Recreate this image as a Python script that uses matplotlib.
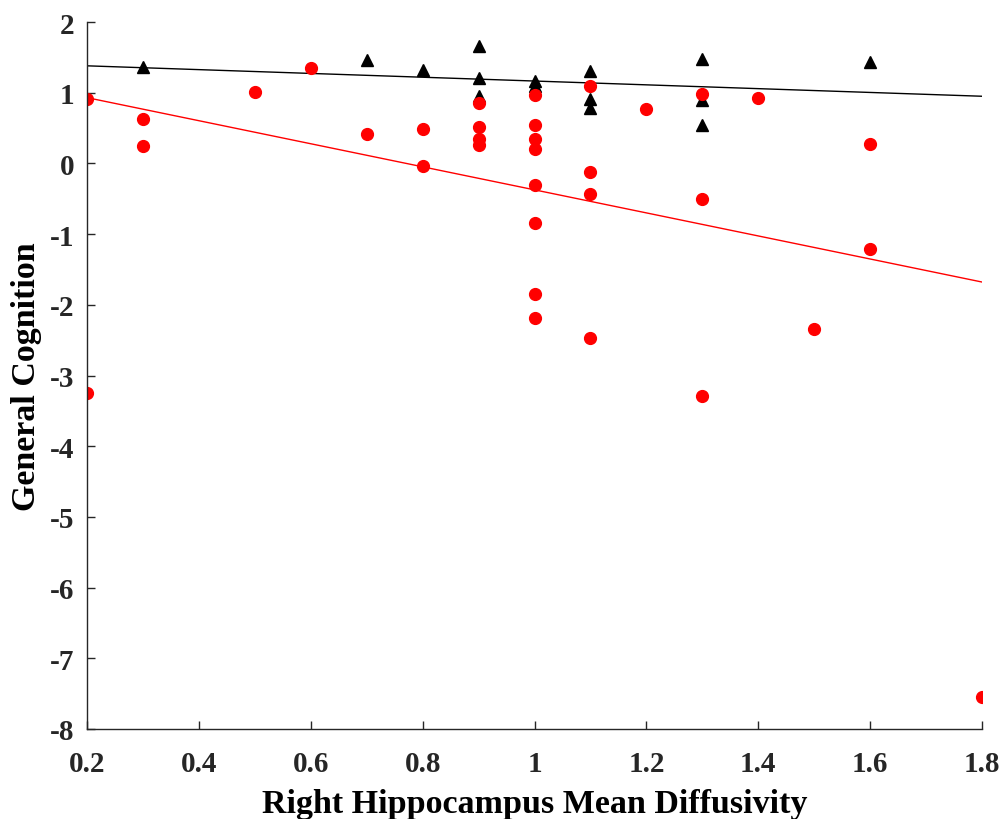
import matplotlib
matplotlib.use("Agg")
import matplotlib.pyplot as plt
import numpy as np

# Red group (circles)
red_x = [0.2, 0.2, 0.3, 0.3, 0.5, 0.6, 0.7, 0.8, 0.8,
         0.9, 0.9, 0.9, 0.9,
         1.0, 1.0, 1.0, 1.0, 1.0, 1.0, 1.0, 1.0,
         1.1, 1.1, 1.1, 1.1,
         1.2, 1.3, 1.3, 1.3, 1.4, 1.5, 1.6, 1.6, 1.8]
red_y = [0.91, -3.25, 0.63, 0.25, 1.01, 1.35, 0.41, 0.48, -0.04,
         0.85, 0.52, 0.35, 0.26,
         0.97, 0.55, 0.35, 0.20, -0.31, -0.85, -1.85, -2.19,
         1.09, -0.12, -0.43, -2.47,
         0.77, 0.98, -0.51, -3.29, 0.93, -2.34, 0.28, -1.21, -7.55]

# Black group (triangles)
black_x = [0.3, 0.7, 0.8, 0.9, 0.9, 0.9, 1.0, 1.0, 1.1, 1.1, 1.1,
           1.3, 1.3, 1.3, 1.6]
black_y = [1.36, 1.46, 1.32, 1.66, 1.21, 0.96, 1.17, 1.09, 1.30, 0.91, 0.79,
           1.48, 0.89, 0.55, 1.44]

# Fit lines (intercept, slope)
red_fit = (1.256, -1.63)
black_fit = (1.434, -0.269)

x_ticks = [0.2, 0.4, 0.6, 0.8, 1.0, 1.2, 1.4, 1.6, 1.8]
x_tick_labels = ["0.2", "0.4", "0.6", "0.8", "1", "1.2", "1.4", "1.6", "1.8"]
y_ticks = [-8, -7, -6, -5, -4, -3, -2, -1, 0, 1, 2]

plt.rcParams['font.family'] = ['Liberation Serif', 'DejaVu Serif']
plt.rcParams['font.weight'] = 'bold'

fig = plt.figure(figsize=(10.05, 8.2), dpi=100)
ax = fig.add_axes([87/1005, 1 - 730/820, (982 - 87)/1005, (730 - 23)/820])

xl = np.array([0.2, 1.8])
ax.plot(xl, black_fit[0] + black_fit[1]*xl, color='black', lw=1.0, zorder=2)
ax.plot(xl, red_fit[0] + red_fit[1]*xl, color='red', lw=1.0, zorder=2)

ax.plot(black_x, black_y, linestyle='none', marker='^', color='black', markersize=8.5, zorder=3)
ax.plot(red_x, red_y, linestyle='none', marker='o', color='red', markersize=8.5, zorder=3)

ax.set_xlim(0.2, 1.8)
ax.set_ylim(-8, 2)
ax.set_xticks(x_ticks)
ax.set_xticklabels(x_tick_labels)
ax.set_yticks(y_ticks)
ax.set_yticklabels([str(v) for v in y_ticks])

for s in ['top', 'right']:
    ax.spines[s].set_visible(False)
for s in ['left', 'bottom']:
    ax.spines[s].set_color('#262626')
    ax.spines[s].set_linewidth(1.0)
    ax.spines[s].set_zorder(4)

ax.tick_params(direction='in', length=6, width=1.0, color='#262626',
               labelsize=21, labelcolor='#262626')
ax.tick_params(axis='x', pad=15)
ax.tick_params(axis='y', pad=9)
for lab in ax.get_xticklabels() + ax.get_yticklabels():
    lab.set_fontweight('bold')

ax.set_xlabel('Right Hippocampus Mean Diffusivity', fontsize=24.5, fontweight='bold', labelpad=8)
ax.set_ylabel('General Cognition', fontsize=24.5, fontweight='bold', labelpad=6)

fig.savefig('out.png', dpi=100)
